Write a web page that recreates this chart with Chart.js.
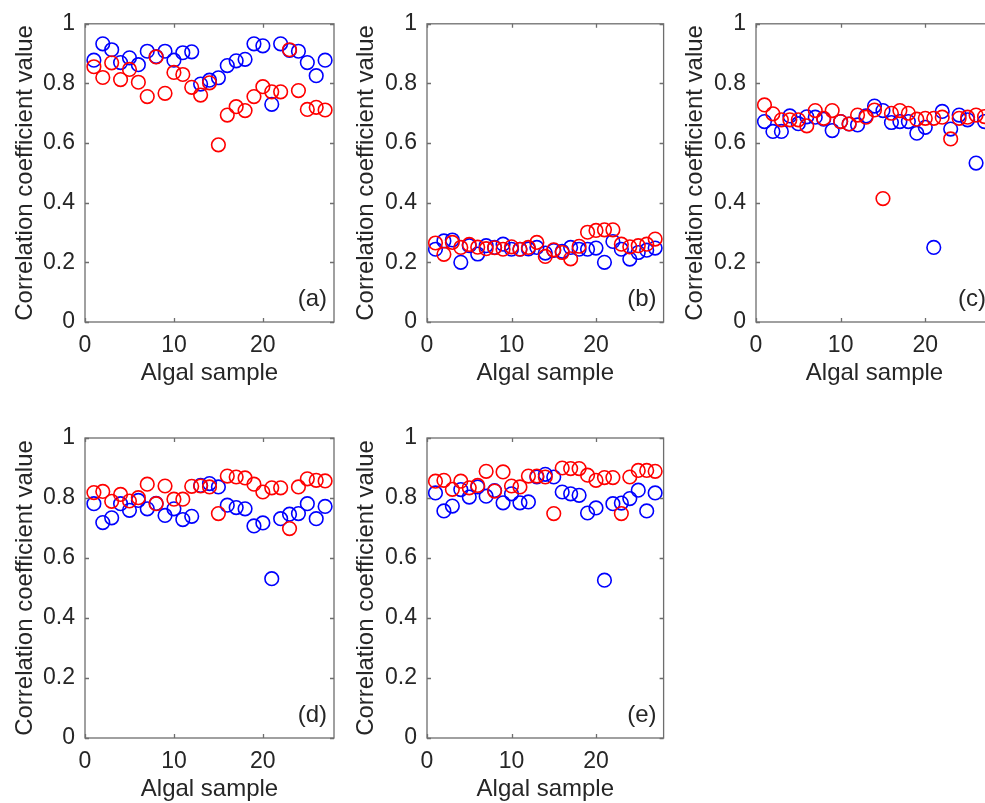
<!DOCTYPE html>
<html>
<head>
<meta charset="utf-8">
<script src="https://cdn.jsdelivr.net/npm/chart.js@4/dist/chart.umd.min.js"></script>
<style>
  html, body { margin: 0; padding: 0; background: #fff; overflow: hidden; width: 985px; height: 803px; }
  .panel { position: absolute; }
</style>
</head>
<body>
<div class="panel" id="wrap-a"><canvas id="chart-a"></canvas></div>
<div class="panel" id="wrap-b"><canvas id="chart-b"></canvas></div>
<div class="panel" id="wrap-c"><canvas id="chart-c"></canvas></div>
<div class="panel" id="wrap-d"><canvas id="chart-d"></canvas></div>
<div class="panel" id="wrap-e"><canvas id="chart-e"></canvas></div>
<script>
// sample numbers on the x axis
const samples = [1, 2, 3, 4, 5, 6, 7, 8, 9, 10, 11, 12, 13, 14, 15, 16, 17, 18, 19, 20, 21, 22, 23, 24, 25, 26, 27];
const xTicks = [0, 10, 20];
const yTicks = [0, 0.2, 0.4, 0.6, 0.8, 1];
const yTickLabels = ["0", "0.2", "0.4", "0.6", "0.8", "1"];

// (a)
const aBlue = [0.878, 0.933, 0.913, 0.870, 0.886, 0.863, 0.908, 0.890, 0.908, 0.878, 0.903, 0.906, 0.798, 0.811, 0.819, 0.860, 0.876, 0.881, 0.933, 0.926, 0.730, 0.933, 0.911, 0.908, 0.870, 0.826, 0.878];
const aRed = [0.856, 0.820, 0.869, 0.813, 0.847, 0.804, 0.756, 0.889, 0.767, 0.837, 0.830, 0.787, 0.761, 0.802, 0.594, 0.694, 0.722, 0.709, 0.756, 0.789, 0.772, 0.772, 0.913, 0.776, 0.713, 0.720, 0.711];
// (b)
const bBlue = [0.244, 0.272, 0.275, 0.200, 0.256, 0.228, 0.256, 0.250, 0.261, 0.244, 0.244, 0.245, 0.250, 0.231, 0.240, 0.237, 0.250, 0.244, 0.244, 0.248, 0.200, 0.270, 0.244, 0.211, 0.233, 0.241, 0.248];
const bRed = [0.265, 0.227, 0.267, 0.250, 0.260, 0.251, 0.246, 0.249, 0.244, 0.252, 0.244, 0.250, 0.267, 0.220, 0.242, 0.233, 0.212, 0.254, 0.301, 0.307, 0.309, 0.309, 0.261, 0.252, 0.256, 0.261, 0.278];
// (c)
const cBlue = [0.672, 0.639, 0.639, 0.691, 0.665, 0.688, 0.687, 0.680, 0.642, 0.672, 0.664, 0.661, 0.691, 0.724, 0.709, 0.669, 0.672, 0.672, 0.633, 0.653, 0.250, 0.706, 0.647, 0.694, 0.678, 0.533, 0.672];
const cRed = [0.728, 0.698, 0.678, 0.678, 0.678, 0.658, 0.709, 0.683, 0.709, 0.672, 0.664, 0.694, 0.687, 0.711, 0.414, 0.700, 0.709, 0.700, 0.680, 0.683, 0.683, 0.687, 0.614, 0.683, 0.687, 0.694, 0.689];
// (d)
const dBlue = [0.781, 0.718, 0.734, 0.781, 0.759, 0.792, 0.764, 0.782, 0.742, 0.764, 0.728, 0.739, 0.842, 0.848, 0.837, 0.776, 0.768, 0.764, 0.707, 0.717, 0.531, 0.731, 0.746, 0.748, 0.781, 0.731, 0.772];
const dRed = [0.818, 0.822, 0.789, 0.812, 0.790, 0.801, 0.846, 0.781, 0.840, 0.796, 0.796, 0.839, 0.840, 0.837, 0.748, 0.873, 0.870, 0.867, 0.846, 0.820, 0.834, 0.834, 0.698, 0.837, 0.864, 0.859, 0.857];
// (e)
const eBlue = [0.817, 0.757, 0.773, 0.828, 0.803, 0.837, 0.806, 0.825, 0.784, 0.814, 0.784, 0.787, 0.870, 0.879, 0.870, 0.820, 0.814, 0.809, 0.750, 0.767, 0.526, 0.781, 0.783, 0.798, 0.826, 0.757, 0.817];
const eRed = [0.856, 0.859, 0.829, 0.856, 0.834, 0.842, 0.889, 0.823, 0.887, 0.840, 0.837, 0.873, 0.873, 0.870, 0.748, 0.900, 0.898, 0.898, 0.876, 0.859, 0.868, 0.868, 0.748, 0.870, 0.892, 0.892, 0.889];

const FONT = '"Liberation Sans", Arial, Helvetica, sans-serif';
const TEXT = "#262626";

// box around the plot, inward ticks on all four sides, panel letter
const framePlugin = {
  id: "frame",
  afterDraw(chart, args, opts) {
    const { ctx, chartArea: a, scales } = chart;
    const x = scales.x, y = scales.y;
    const t = 4;
    ctx.save();
    ctx.strokeStyle = "#6e6e6e";
    ctx.lineWidth = 1.3;
    ctx.strokeRect(a.left, a.top, a.right - a.left, a.bottom - a.top);
    ctx.beginPath();
    xTicks.forEach(v => {
      const px = Math.round(x.getPixelForValue(v)) + 0.5;
      ctx.moveTo(px, a.bottom); ctx.lineTo(px, a.bottom - t);
      ctx.moveTo(px, a.top); ctx.lineTo(px, a.top + t);
    });
    yTicks.forEach(v => {
      const py = Math.round(y.getPixelForValue(v)) + 0.5;
      ctx.moveTo(a.left, py); ctx.lineTo(a.left + t, py);
      ctx.moveTo(a.right, py); ctx.lineTo(a.right - t, py);
    });
    ctx.stroke();
    ctx.fillStyle = TEXT;
    ctx.font = "24px " + FONT;
    ctx.textAlign = "right";
    ctx.textBaseline = "middle";
    ctx.fillText(opts.label, a.right - 7, a.bottom - 23);
    ctx.restore();
  }
};

function points(vals) {
  return samples.map((s, i) => ({ x: s, y: vals[i] }));
}

// canvas box and plot-area edges for each panel
function makePanel(id, box, label, blue, red) {
  const wrap = document.getElementById("wrap-" + id);
  wrap.style.left = box.left + "px";
  wrap.style.top = box.top + "px";
  const canvas = document.getElementById("chart-" + id);
  canvas.width = box.width;
  canvas.height = box.height;
  canvas.style.width = box.width + "px";
  canvas.style.height = box.height + "px";

  const yAxisW = box.plotLeft - box.left;
  const xAxisH = box.height - (box.plotBottom - box.top);

  return new Chart(canvas, {
    type: "scatter",
    data: {
      datasets: [
        { label: "blue", data: points(blue), borderColor: "#0000ff", backgroundColor: "rgba(0,0,0,0)", pointRadius: 6.8, pointBorderWidth: 1.6, order: 2 },
        { label: "red", data: points(red), borderColor: "#ff0000", backgroundColor: "rgba(0,0,0,0)", pointRadius: 6.8, pointBorderWidth: 1.6, order: 1 }
      ]
    },
    options: {
      responsive: false,
      animation: false,
      devicePixelRatio: 1,
      layout: { padding: { top: box.plotTop - box.top, right: box.left + box.width - box.plotRight, left: 0, bottom: 0 } },
      plugins: { legend: { display: false }, tooltip: { enabled: false }, frame: { label: label } },
      scales: {
        x: {
          type: "linear", min: 0, max: 28,
          grid: { display: false, drawTicks: false },
          border: { display: false },
          afterBuildTicks: s => { s.ticks = xTicks.map(v => ({ value: v })); },
          afterFit: s => { s.height = xAxisH; },
          ticks: { color: TEXT, font: { size: 23, family: FONT }, padding: 10, maxRotation: 0, autoSkip: false },
          title: { display: true, text: "Algal sample", color: TEXT, font: { size: 24, family: FONT }, padding: { top: 0, bottom: 6 } }
        },
        y: {
          type: "linear", min: 0, max: 1,
          grid: { display: false, drawTicks: false },
          border: { display: false },
          afterBuildTicks: s => { s.ticks = yTicks.map(v => ({ value: v })); },
          afterFit: s => { s.width = yAxisW; },
          ticks: { color: TEXT, font: { size: 23, family: FONT }, padding: 10, autoSkip: false, callback: (v, i) => yTickLabels[i] },
          title: { display: true, text: "Correlation coefficient value", color: TEXT, font: { size: 24, family: FONT }, padding: { top: 11, bottom: 0 } }
        }
      }
    },
    plugins: [framePlugin]
  });
}

makePanel("a", { left: 0, top: 0, width: 345, height: 394, plotLeft: 85, plotRight: 334, plotTop: 22, plotBottom: 322 }, "(a)", aBlue, aRed);
makePanel("b", { left: 341, top: 0, width: 331, height: 394, plotLeft: 427, plotRight: 665, plotTop: 22, plotBottom: 322 }, "(b)", bBlue, bRed);
makePanel("c", { left: 670, top: 0, width: 340, height: 394, plotLeft: 756, plotRight: 993, plotTop: 22, plotBottom: 322 }, "(c)", cBlue, cRed);
makePanel("d", { left: 0, top: 410, width: 345, height: 400, plotLeft: 85, plotRight: 334, plotTop: 438, plotBottom: 738 }, "(d)", dBlue, dRed);
makePanel("e", { left: 341, top: 410, width: 331, height: 400, plotLeft: 427, plotRight: 665, plotTop: 438, plotBottom: 738 }, "(e)", eBlue, eRed);
</script>
</body>
</html>
